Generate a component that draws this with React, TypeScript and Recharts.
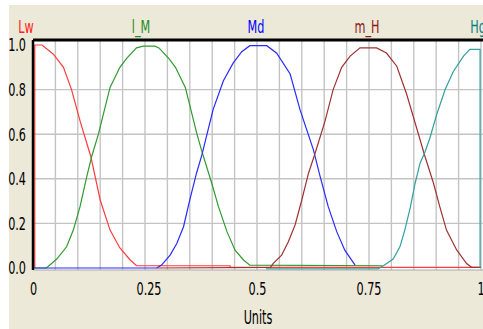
import React from 'react';
import { LineChart, Line, XAxis, YAxis, CartesianGrid, Label } from 'recharts';

// membership names, shown above the plot
const SERIES_NAMES = ['Lw', 'l_M', 'Md', 'm_H', 'Hg'];
const NAME_TICKS = [0, 0.25, 0.5, 0.75, 1];
const X_TICKS = [0, 0.25, 0.5, 0.75, 1];
const X_TICK_LABELS = ['0', '0.25', '0.5', '0.75', '1'];
const Y_TICKS = [0, 0.2, 0.4, 0.6, 0.8, 1];
const GRID_X = [0.05, 0.1, 0.15, 0.2, 0.25, 0.3, 0.35, 0.4, 0.45, 0.5, 0.55, 0.6, 0.65, 0.7, 0.75, 0.8, 0.85, 0.9, 0.95, 1];
const GRID_Y = [0.2, 0.4, 0.6, 0.8];
const X_DOMAIN = [0, 1.0045];
const Y_DOMAIN = [-0.009, 1.0224];

const lwData = [
  { u: 0.004, v: 0 }, { u: 0.004, v: 1 }, { u: 0.02, v: 1 }, { u: 0.045, v: 0.96 },
  { u: 0.068, v: 0.9 }, { u: 0.086, v: 0.8 }, { u: 0.105, v: 0.66 }, { u: 0.129, v: 0.5 },
  { u: 0.15, v: 0.305 }, { u: 0.172, v: 0.17 }, { u: 0.194, v: 0.09 }, { u: 0.217, v: 0.036 },
  { u: 0.231, v: 0.01 }, { u: 0.44, v: 0.01 }, { u: 0.44, v: 0.003 }, { u: 1.0, v: 0.003 },
];

const lmData = [
  { u: 0.004, v: 0 }, { u: 0.03, v: 0 }, { u: 0.053, v: 0.04 }, { u: 0.075, v: 0.095 },
  { u: 0.09, v: 0.17 }, { u: 0.105, v: 0.275 }, { u: 0.12, v: 0.41 }, { u: 0.131, v: 0.5 },
  { u: 0.146, v: 0.6 }, { u: 0.172, v: 0.81 }, { u: 0.194, v: 0.9 }, { u: 0.209, v: 0.94 },
  { u: 0.231, v: 0.987 }, { u: 0.246, v: 0.995 }, { u: 0.272, v: 0.995 }, { u: 0.281, v: 0.987 },
  { u: 0.303, v: 0.94 }, { u: 0.318, v: 0.9 }, { u: 0.34, v: 0.81 }, { u: 0.366, v: 0.6 },
  { u: 0.376, v: 0.53 }, { u: 0.399, v: 0.38 }, { u: 0.414, v: 0.275 }, { u: 0.433, v: 0.163 },
  { u: 0.451, v: 0.08 }, { u: 0.47, v: 0.036 }, { u: 0.484, v: 0.013 }, { u: 0.78, v: 0.01 },
];

const mdData = [
  { u: 0, v: 0 }, { u: 0.276, v: 0 }, { u: 0.287, v: 0.013 }, { u: 0.306, v: 0.058 },
  { u: 0.321, v: 0.11 }, { u: 0.336, v: 0.185 }, { u: 0.35, v: 0.305 }, { u: 0.365, v: 0.425 },
  { u: 0.377, v: 0.507 }, { u: 0.402, v: 0.71 }, { u: 0.425, v: 0.84 }, { u: 0.447, v: 0.92 },
  { u: 0.466, v: 0.97 }, { u: 0.484, v: 0.997 }, { u: 0.522, v: 0.997 }, { u: 0.544, v: 0.963 },
  { u: 0.574, v: 0.87 }, { u: 0.596, v: 0.71 }, { u: 0.626, v: 0.53 }, { u: 0.641, v: 0.41 },
  { u: 0.659, v: 0.275 }, { u: 0.678, v: 0.163 }, { u: 0.696, v: 0.08 }, { u: 0.719, v: 0.013 },
];

const mhData = [
  { u: 0.276, v: 0 }, { u: 0.53, v: 0.003 }, { u: 0.536, v: 0.02 }, { u: 0.555, v: 0.058 },
  { u: 0.57, v: 0.118 }, { u: 0.585, v: 0.193 }, { u: 0.6, v: 0.305 }, { u: 0.615, v: 0.425 },
  { u: 0.629, v: 0.51 }, { u: 0.652, v: 0.66 }, { u: 0.67, v: 0.8 }, { u: 0.689, v: 0.9 },
  { u: 0.708, v: 0.95 }, { u: 0.73, v: 0.987 }, { u: 0.767, v: 0.987 }, { u: 0.789, v: 0.964 },
  { u: 0.812, v: 0.905 }, { u: 0.834, v: 0.78 }, { u: 0.856, v: 0.63 }, { u: 0.875, v: 0.5 },
  { u: 0.894, v: 0.38 }, { u: 0.908, v: 0.275 }, { u: 0.923, v: 0.17 }, { u: 0.946, v: 0.08 },
  { u: 0.968, v: 0.02 }, { u: 0.979, v: 0.003 }, { u: 1.0, v: 0.003 },
];

const hgData = [
  { u: 0.52, v: -0.004 }, { u: 0.77, v: -0.004 }, { u: 0.782, v: 0.01 }, { u: 0.804, v: 0.04 },
  { u: 0.819, v: 0.095 }, { u: 0.83, v: 0.17 }, { u: 0.842, v: 0.27 }, { u: 0.853, v: 0.38 },
  { u: 0.864, v: 0.47 }, { u: 0.875, v: 0.52 }, { u: 0.886, v: 0.583 }, { u: 0.901, v: 0.687 },
  { u: 0.92, v: 0.8 }, { u: 0.938, v: 0.88 }, { u: 0.961, v: 0.95 }, { u: 0.975, v: 0.98 },
  { u: 0.998, v: 0.98 }, { u: 0.998, v: 0 },
];

const LINE_COLORS = ['#ff3b3b', '#2f9a2f', '#2a2aff', '#a03232', '#30a0a0'];
const NAME_COLORS = ['#ff2020', '#1e8c1e', '#0000ff', '#8b1a1a', '#008080'];
const FONT = "'Liberation Sans Narrow', 'DejaVu Sans Condensed', 'Arial Narrow', sans-serif";

const NAME_SHIFT = [-7, -4, -1, -2, -3];
const XTICK_SHIFT = [0.5, 4, 0.5, 0, 0];

function NameTick(props: any) {
  const { x, y, index } = props;
  return (
    <text transform={`translate(${x + NAME_SHIFT[index]},${y}) scale(1,1.45)`} textAnchor="middle"
      fontFamily={FONT} fontSize={12.5} fill={NAME_COLORS[index]}>
      {SERIES_NAMES[index]}
    </text>
  );
}

function YTick(props: any) {
  const { x, y, payload } = props;
  return (
    <text transform={`translate(${x},${y + 6.5}) scale(1,1.45)`} textAnchor="end"
      fontFamily={FONT} fontSize={12.5} fill="#000">
      {Number(payload.value).toFixed(1)}
    </text>
  );
}

function XTick(props: any) {
  const { x, y, index } = props;
  return (
    <text transform={`translate(${x + XTICK_SHIFT[index]},${y + 25}) scale(1,1.45)`} textAnchor="middle"
      fontFamily={FONT} fontSize={12.5} fill="#000">
      {X_TICK_LABELS[index]}
    </text>
  );
}

function UnitsLabel(props: any) {
  const { viewBox } = props;
  const cx = viewBox.x + viewBox.width / 2;
  return (
    <text transform={`translate(${cx},${viewBox.y + 54}) scale(1,1.6)`} textAnchor="middle"
      fontFamily={FONT} fontSize={12.5} fill="#000">
      Units
    </text>
  );
}

const gridX = ({ offset }: any) =>
  GRID_X.map((v) => offset.left + ((v - X_DOMAIN[0]) / (X_DOMAIN[1] - X_DOMAIN[0])) * offset.width);
const gridY = ({ offset }: any) =>
  GRID_Y.map((v) => offset.top + ((Y_DOMAIN[1] - v) / (Y_DOMAIN[1] - Y_DOMAIN[0])) * offset.height);

export default function App() {
  const series = [lwData, lmData, mdData, mhData, hgData];
  return (
    <div style={{ position: 'absolute', left: 0, top: 0, width: 483, height: 329, background: '#fff', overflow: 'hidden' }}>
      <div style={{ position: 'absolute', left: 9, top: 5, width: 474, height: 324, background: '#ece9d8' }} />
      <div style={{ position: 'absolute', left: 0, top: 0 }}>
        <LineChart width={483} height={329} margin={{ top: 0, right: 0, bottom: 0, left: 0 }}>
          <CartesianGrid fill="#fff" stroke="#c4c4c4" strokeWidth={1.4}
            verticalCoordinatesGenerator={gridX} horizontalCoordinatesGenerator={gridY} />
          <XAxis dataKey="u" type="number" domain={X_DOMAIN} allowDataOverflow ticks={X_TICKS}
            height={59} tickSize={0} tickMargin={0} tick={<XTick />}
            axisLine={{ stroke: '#a8a8a8' }} interval={0}>
            <Label content={<UnitsLabel />} />
          </XAxis>
          <XAxis xAxisId="top" orientation="top" dataKey="u" type="number" domain={X_DOMAIN} allowDataOverflow
            ticks={NAME_TICKS} height={40} tickSize={0} tickMargin={7} tick={<NameTick />}
            axisLine={{ stroke: '#000', strokeWidth: 3 }} interval={0} />
          <YAxis type="number" domain={Y_DOMAIN} allowDataOverflow ticks={Y_TICKS} width={33}
            tickSize={0} tickMargin={7} tick={<YTick />} axisLine={{ stroke: '#000', strokeWidth: 2.5 }} interval={0} />
          {series.map((d, i) => (
            <Line key={SERIES_NAMES[i]} data={d} dataKey="v" type="linear" stroke={LINE_COLORS[i]}
              strokeWidth={1.2} dot={false} isAnimationActive={false} />
          ))}
        </LineChart>
      </div>
    </div>
  );
}
